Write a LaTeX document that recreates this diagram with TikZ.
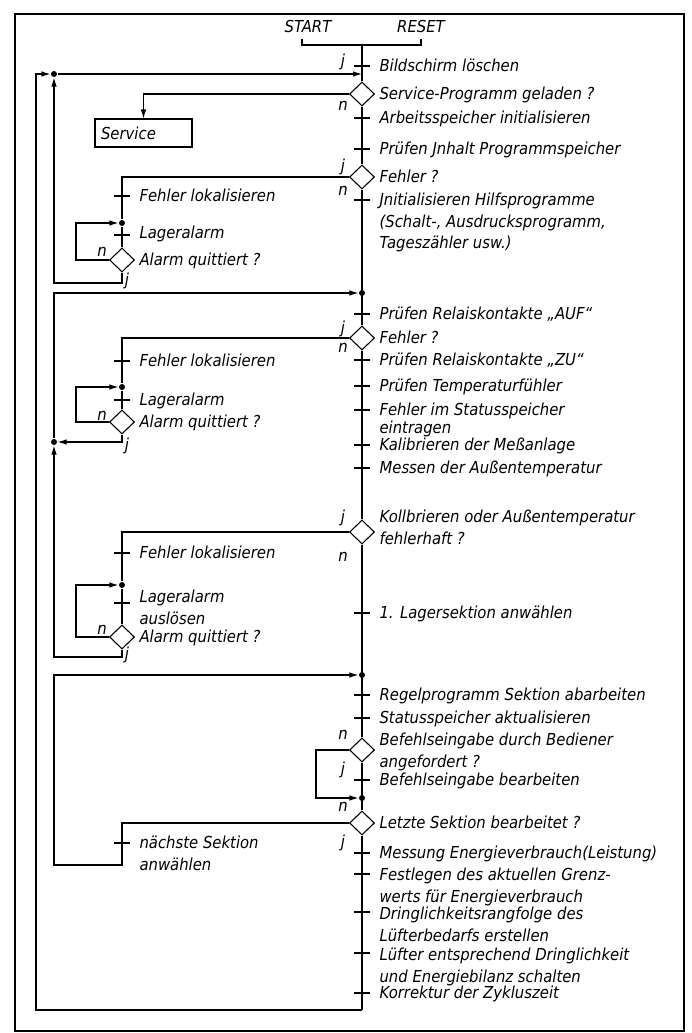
\documentclass[tikz,border=0pt]{standalone}
\usepackage{fontspec}
\newfontfamily\hand{DejaVu Sans}[FakeStretch=0.9]
\usetikzlibrary{arrows.meta,positioning,shapes.geometric}

\begin{document}
\begin{tikzpicture}[x=1pt,y=-1pt,line width=1.1pt,
  lbl/.style={anchor=base west,align=left,inner sep=0,xshift=17pt,yshift=-5.5pt,font=\hand\itshape\fontsize{16.5}{21.5}\selectfont},
  two/.style={yshift=-21.5pt},
  three/.style={yshift=-43pt},
  tight/.style={font=\hand\itshape\fontsize{16.5}{18}\selectfont,yshift=3.5pt},
  yn/.style={inner sep=0,font=\hand\itshape\fontsize{16.5}{21.5}\selectfont},
  dec/.style={draw,diamond,inner sep=0,minimum width=25pt,minimum height=24pt},
  svc/.style={draw,align=left,inner sep=6pt,text width=85pt,minimum height=28pt,font=\hand\itshape\fontsize{16.5}{21.5}\selectfont},
  dot/.style={circle,fill,inner sep=0,minimum size=6pt},
  arr/.style={-{Latex[length=9pt,width=5.5pt]}}]
\useasboundingbox (0,0) rectangle (692,1033);
\draw[line width=1.6pt] (15,14) rectangle (684,1031);

% start / reset
\node[yn,anchor=base] (start) at (308,33) {START};
\node[yn,anchor=base] (reset) at (421,33) {RESET};
\coordinate (top) at (362,45);
\coordinate (bl) at (302,39);
\coordinate (br) at (421,39);
\draw (bl) |- (top) -| (br);

% main line
\coordinate (t1) at (362,66);
\coordinate (e0) at (362,74);
\node[dec] (d1) at (362,94) {};
\coordinate (t2) at (362,118);
\coordinate (t3) at (362,149);
\node[dec] (d2) at (362,177) {};
\coordinate (t4) at (362,200);
\node[dot] (p1) at (362,293) {};
\coordinate (t5) at (362,314);
\node[dec] (d3) at (362,338) {};
\coordinate (t6) at (362,360);
\coordinate (t7) at (362,386);
\coordinate (t8) at (362,410);
\coordinate (t9) at (362,445);
\coordinate (t10) at (362,468);
\node[dec] (d4) at (362,532) {};
\coordinate (t11) at (362,613);
\node[dot] (p2) at (362,675) {};
\coordinate (t12) at (362,695);
\coordinate (t13) at (362,718);
\node[dec] (d5) at (362,750) {};
\coordinate (t14) at (362,780);
\node[dot] (p3) at (362,798) {};
\node[dec] (d6) at (362,823) {};
\coordinate (t15) at (362,853);
\coordinate (t16) at (362,874);
\coordinate (t17) at (362,912);
\coordinate (t18) at (362,953);
\coordinate (t19) at (362,993);
\coordinate (bot) at (362,1010);

\draw (top) -- (d1.north) (d1.south) -- (d2.north) (d2.south) -- (d3.north)
      (d3.south) -- (d4.north) (d4.south) -- (d5.north) (d5.south) -- (d6.north)
      (d6.south) -- (bot);
\foreach \i in {1,...,19} \draw ([xshift=-8pt]t\i) -- ([xshift=8pt]t\i);

\node[lbl] (l1) at (t1) {Bildschirm löschen};
\node[lbl] (k1) at (d1) {Service-Programm geladen ?};
\node[lbl] (l2) at (t2) {Arbeitsspeicher initialisieren};
\node[lbl] (l3) at (t3) {Prüfen Jnhalt Programmspeicher};
\node[lbl] (k2) at (d2) {Fehler ?};
\node[lbl,three] (l4) at (t4) {Jnitialisieren Hilfsprogramme\\(Schalt-, Ausdrucksprogramm,\\Tageszähler usw.)};
\node[lbl] (l5) at (t5) {Prüfen Relaiskontakte „AUF“};
\node[lbl] (k3) at (d3) {Fehler ?};
\node[lbl] (l6) at (t6) {Prüfen Relaiskontakte „ZU“};
\node[lbl] (l7) at (t7) {Prüfen Temperaturfühler};
\node[lbl,two,tight] (l8) at (t8) {Fehler im Statusspeicher\\eintragen};
\node[lbl] (l9) at (t9) {Kalibrieren der Meßanlage};
\node[lbl] (l10) at (t10) {Messen der Außentemperatur};
\node[lbl,two,yshift=15pt] (k4) at (d4) {Kollbrieren oder Außentemperatur\\fehlerhaft ?};
\node[lbl] (l11) at (t11) {1. Lagersektion anwählen};
\node[lbl] (l12) at (t12) {Regelprogramm Sektion abarbeiten};
\node[lbl] (l13) at (t13) {Statusspeicher aktualisieren};
\node[lbl,two,yshift=10pt] (k5) at (d5) {Befehlseingabe durch Bediener\\angefordert ?};
\node[lbl] (l14) at (t14) {Befehlseingabe bearbeiten};
\node[lbl] (k6) at (d6) {Letzte Sektion bearbeitet ?};
\node[lbl] (l15) at (t15) {Messung Energieverbrauch(Leistung)};
\node[lbl,two,yshift=-1pt] (l16) at (t16) {Festlegen des aktuellen Grenz-\\werts für Energieverbrauch};
\node[lbl,two,yshift=-2pt] (l17) at (t17) {Dringlichkeitsrangfolge des\\Lüfterbedarfs erstellen};
\node[lbl,two,yshift=-2pt] (l18) at (t18) {Lüfter entsprechend Dringlichkeit\\und Energiebilanz schalten};
\node[lbl] (l19) at (t19) {Korrektur der Zykluszeit};

% j / n on the main line
\node[yn] (y1) at (343,62) {j};
\node[yn] (n1) at (343,106) {n};
\node[yn] (y2) at (343,167) {j};
\node[yn] (n2) at (343,191) {n};
\node[yn] (y3) at (343,329) {j};
\node[yn] (n3) at (343,348) {n};
\node[yn] (y4) at (343,518) {j};
\node[yn] (n4) at (343,557) {n};
\node[yn] (n5) at (343,735) {n};
\node[yn] (y5) at (343,770) {j};
\node[yn] (n6) at (343,807) {n};
\node[yn] (y6) at (343,843) {j};

% service
\node[svc] (svc) at (143.5,133) {Service};
\draw[arr] (d1.west) -| (svc.north);

% outer loop back to start
\node[dot] (p0) at (54,74) {};
\coordinate (oc) at (36,74);
\draw[arr] (bot) -| (oc) -- (p0);
\draw[arr] (p0) -- (e0);

% error branches
\coordinate (f1) at (122,196);
\node[dot] (q1) at (122,223) {};
\coordinate (f2) at (122,235);
\node[dec] (a1) at (122,260) {};
\coordinate (r1) at (76,223);
\coordinate (s1) at (122,283);
\draw (d2.west) -| (q1) -- (a1.north);
\draw[arr] (a1.west) -| (r1) -- (q1);
\draw[arr] (a1.south) -- (s1) -| (p0);

\node[dot] (p4) at (54,442) {};
\coordinate (f3) at (122,361);
\node[dot] (q2) at (122,387) {};
\coordinate (f4) at (122,400);
\node[dec] (a2) at (122,422) {};
\coordinate (r2) at (76,387);
\draw (d3.west) -| (q2) -- (a2.north);
\draw[arr] (a2.west) -| (r2) -- (q2);
\draw[arr] (a2.south) |- (p4);
\draw[arr] (p4) |- (p1);

\coordinate (f5) at (122,553);
\node[dot] (q3) at (122,585) {};
\coordinate (f6) at (122,603);
\node[dec] (a3) at (122,637) {};
\coordinate (r3) at (76,585);
\coordinate (s3) at (122,657);
\draw (d4.west) -| (q3) -- (a3.north);
\draw[arr] (a3.west) -| (r3) -- (q3);
\draw[arr] (a3.south) -- (s3) -| (p4);

% section loop
\coordinate (v1) at (316,798);
\draw[arr] (d5.west) -| (v1) -- (p3);
\coordinate (f7) at (122,843);
\coordinate (u1) at (122,865);
\coordinate (u2) at (54,865);
\draw[arr] (d6.west) -| (u1) -- (u2) |- (p2);

\foreach \i in {1,...,7} \draw ([xshift=-8pt]f\i) -- ([xshift=8pt]f\i);
\node[lbl] (g1) at (f1) {Fehler lokalisieren};
\node[lbl,yshift=2pt] (g2) at (f2) {Lageralarm};
\node[lbl] (h1) at (a1) {Alarm quittiert ?};
\node[lbl] (g3) at (f3) {Fehler lokalisieren};
\node[lbl] (g4) at (f4) {Lageralarm};
\node[lbl] (h2) at (a2) {Alarm quittiert ?};
\node[lbl] (g5) at (f5) {Fehler lokalisieren};
\node[lbl,two,yshift=6pt] (g6) at (f6) {Lageralarm\\auslösen};
\node[lbl] (h3) at (a3) {Alarm quittiert ?};
\node[lbl,two] (g7) at (f7) {nächste Sektion\\anwählen};

\node[yn] (n7) at (102,252) {n};
\node[yn] (y7) at (127,281) {j};
\node[yn] (n8) at (102,416) {n};
\node[yn] (y8) at (127,446) {j};
\node[yn] (n9) at (102,630) {n};
\node[yn] (y9) at (127,655) {j};
\end{tikzpicture}
\end{document}
